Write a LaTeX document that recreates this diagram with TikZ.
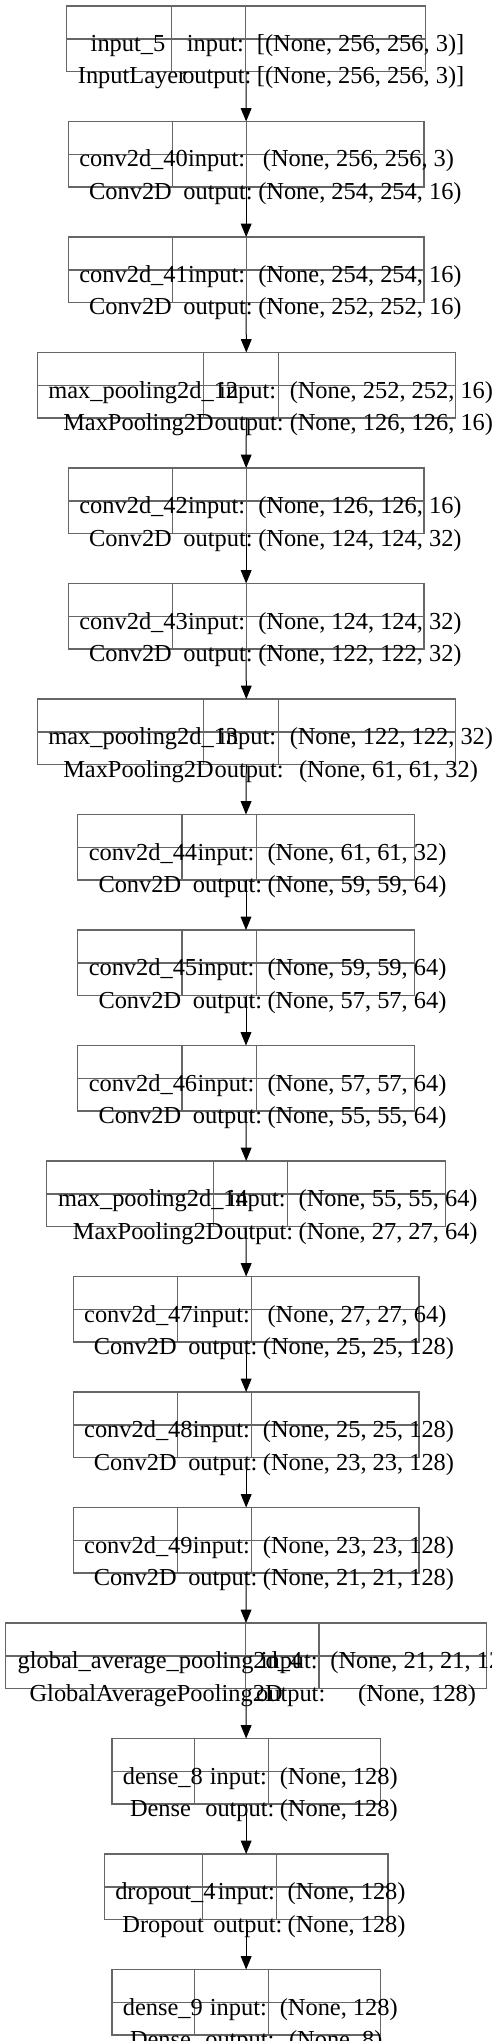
\documentclass[tikz,border=0pt]{standalone}
\usepackage{fontspec}
\newfontfamily\lblfam{Liberation Serif}
\usetikzlibrary{arrows.meta}
\newcommand\lblfont{\lblfam\fontsize{24.4}{29}\selectfont}
\tikzset{
  box/.style={draw=black!60, line width=1.2pt, inner sep=0pt, outer sep=0pt, anchor=north west, minimum height=65.5pt},
  divider/.style={draw=black!60, line width=1.2pt},
  lbl/.style={anchor=base, inner sep=0pt, outer sep=0pt, font=\lblfont, text=black},
  arr/.style={draw=black, line width=1pt, -{Triangle[width=10.7pt,length=13.3pt]}},
}
% text centred as graphviz would with a narrower width estimate
\newcommand\celltext[5]{%
  \pgfmathsetmacro\celx{(#2+#3)/2}%
  \node[lbl] (#1) at (\celx,#4) {\makebox[0.758\width][l]{#5}};%
}
\newcommand\layer[9]{%
  \pgfmathsetmacro\ltop{6+115.5*#1}%
  \pgfmathsetmacro\lbot{\ltop+65.5}%
  \pgfmathsetmacro\lmid{\ltop+33}%
  \pgfmathsetmacro\lbw{#5-#2}%
  \pgfmathsetmacro\lba{\ltop+45.5}%
  \pgfmathsetmacro\lbb{\ltop+78}%
  \node[box, minimum width=\lbw pt] (L#1) at (#2,\ltop) {};
  \draw[divider] (#2,\lmid) -- (#5,\lmid);
  \draw[divider] (#3,\ltop) -- (#3,\lbot);
  \draw[divider] (#4,\ltop) -- (#4,\lbot);
  \celltext{L#1-name}{#2}{#3}{\lba}{#6}
  \celltext{L#1-type}{#2}{#3}{\lbb}{#7}
  \celltext{L#1-in}{#3}{#4}{\lba}{input:}
  \celltext{L#1-out}{#3}{#4}{\lbb}{output:}
  \celltext{L#1-si}{#4}{#5}{\lba}{#8}
  \celltext{L#1-so}{#4}{#5}{\lbb}{#9}
}
\begin{document}
\begin{tikzpicture}[x=1pt,y=-1pt]
\useasboundingbox (0,0) rectangle (491,2041);
\layer{0}{66.7}{171.3}{245.7}{425.3}{input\_5}{InputLayer}{[(None, 256, 256, 3)]}{[(None, 256, 256, 3)]}
\layer{1}{68.3}{172.7}{246.7}{424}{conv2d\_40}{Conv2D}{(None, 256, 256, 3)}{(None, 254, 254, 16)}
\layer{2}{68.3}{172.7}{246.7}{424}{conv2d\_41}{Conv2D}{(None, 254, 254, 16)}{(None, 252, 252, 16)}
\layer{3}{37.3}{203.3}{278.3}{455.3}{max\_pooling2d\_12}{MaxPooling2D}{(None, 252, 252, 16)}{(None, 126, 126, 16)}
\layer{4}{68.3}{172.7}{246.7}{424}{conv2d\_42}{Conv2D}{(None, 126, 126, 16)}{(None, 124, 124, 32)}
\layer{5}{68.3}{172.7}{246.7}{424}{conv2d\_43}{Conv2D}{(None, 124, 124, 32)}{(None, 122, 122, 32)}
\layer{6}{37.3}{203.3}{278.3}{455.3}{max\_pooling2d\_13}{MaxPooling2D}{(None, 122, 122, 32)}{(None, 61, 61, 32)}
\layer{7}{77.7}{182}{256.3}{414.3}{conv2d\_44}{Conv2D}{(None, 61, 61, 32)}{(None, 59, 59, 64)}
\layer{8}{77.7}{182}{256.3}{414.3}{conv2d\_45}{Conv2D}{(None, 59, 59, 64)}{(None, 57, 57, 64)}
\layer{9}{77.7}{182}{256.3}{414.3}{conv2d\_46}{Conv2D}{(None, 57, 57, 64)}{(None, 55, 55, 64)}
\layer{10}{46.7}{213.3}{287.3}{445.7}{max\_pooling2d\_14}{MaxPooling2D}{(None, 55, 55, 64)}{(None, 27, 27, 64)}
\layer{11}{73.3}{177.3}{251.7}{419}{conv2d\_47}{Conv2D}{(None, 27, 27, 64)}{(None, 25, 25, 128)}
\layer{12}{73.3}{177.3}{251.7}{419}{conv2d\_48}{Conv2D}{(None, 25, 25, 128)}{(None, 23, 23, 128)}
\layer{13}{73.3}{177.3}{251.7}{419}{conv2d\_49}{Conv2D}{(None, 23, 23, 128)}{(None, 21, 21, 128)}
\layer{14}{5.3}{245.7}{319}{486.7}{global\_average\_pooling2d\_4}{GlobalAveragePooling2D}{(None, 21, 21, 128)}{(None, 128)}
\layer{15}{112}{194.3}{268.7}{380.3}{dense\_8}{Dense}{(None, 128)}{(None, 128)}
\layer{16}{104.3}{202.3}{276.7}{388}{dropout\_4}{Dropout}{(None, 128)}{(None, 128)}
\layer{17}{112}{194.3}{268.7}{380.3}{dense\_9}{Dense}{(None, 128)}{(None, 8)}
\foreach \a/\b in {0/1,1/2,2/3,3/4,4/5,5/6,6/7,7/8,8/9,9/10,10/11,11/12,12/13,13/14,14/15,15/16,16/17}
  \draw[arr] (L\a.south) -- (L\b.north);
\end{tikzpicture}
\end{document}
